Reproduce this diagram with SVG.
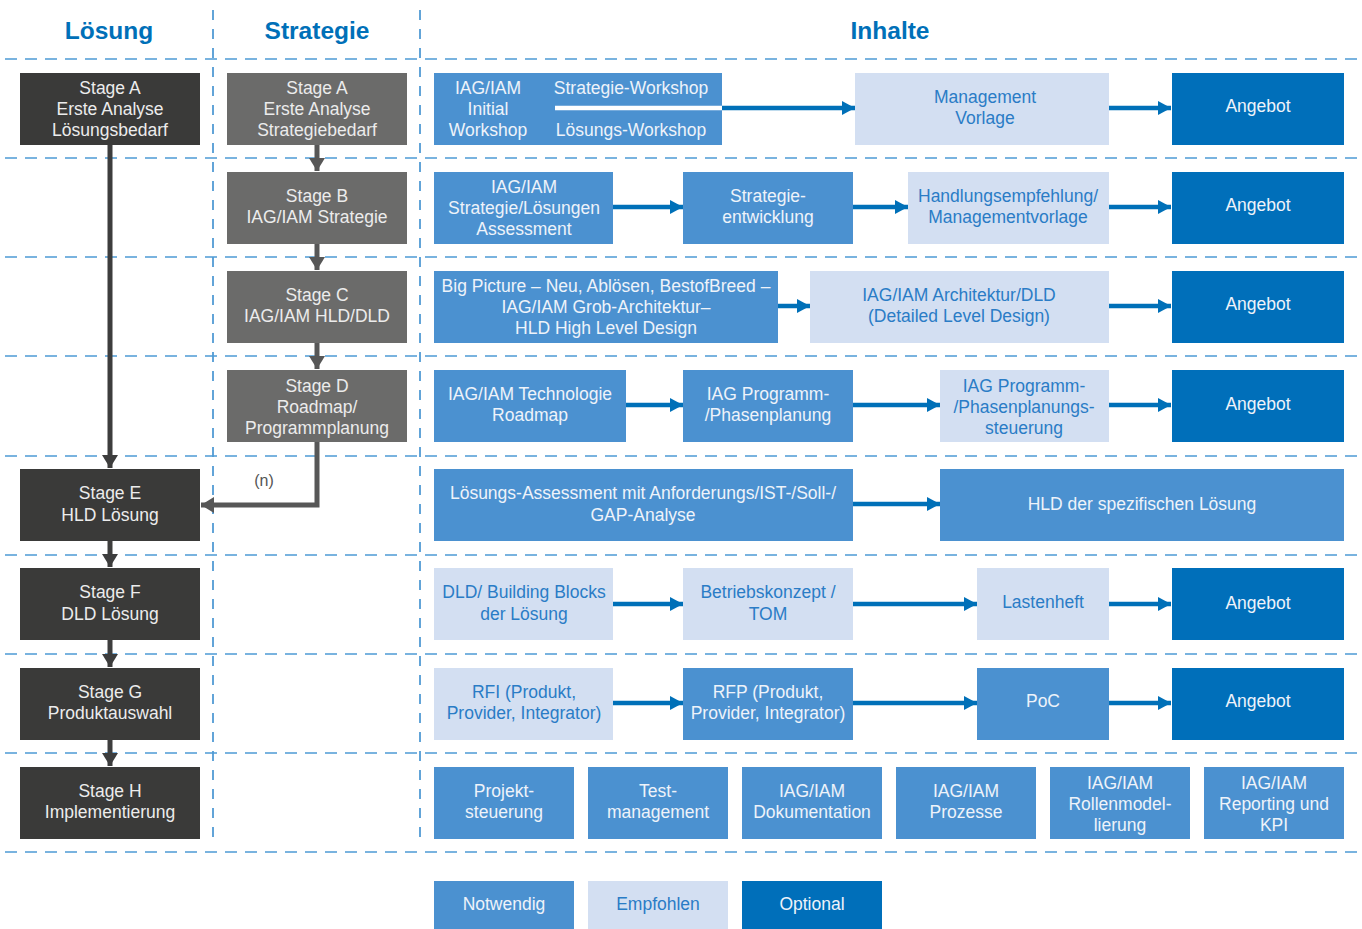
<svg xmlns="http://www.w3.org/2000/svg" width="1362" height="929" viewBox="0 0 1362 929">
<style>
text{font-family:"Liberation Sans",Arial,sans-serif;font-size:17.5px;text-anchor:middle}
.hd{font-size:24.5px;font-weight:bold;fill:#0070b8}
.grid{stroke:#4d9ad5;stroke-width:1.5;stroke-dasharray:12 8;fill:none}
.vgrid{stroke:#2f86cc;stroke-width:1.5;stroke-dasharray:10 9;fill:none}
.dk{fill:#3a3a39}.gr{fill:#6b6b6a}
.md{fill:#4b91d0}.lt{fill:#d3dff2}.op{fill:#006fba}
.tw{fill:#eef3fa}.tb{fill:#2a7cc6}.tg{fill:#ececec}
.ba{stroke:#0070b8;stroke-width:4.5;fill:none;marker-end:url(#ab)}
.ga{stroke:#3d3d3d;stroke-width:5;fill:none;marker-end:url(#ag)}
.ga2{stroke:#575757;stroke-width:5;fill:none;marker-end:url(#ag2)}
</style>
<defs>
<marker id="ab" markerUnits="userSpaceOnUse" markerWidth="13" markerHeight="14" refX="13" refY="7" orient="auto"><path d="M0,0L13,7L0,14z" fill="#0070b8"/></marker>
<marker id="ag" markerUnits="userSpaceOnUse" markerWidth="13" markerHeight="16" refX="13" refY="8" orient="auto"><path d="M0,0L13,8L0,16z" fill="#3d3d3d"/></marker>
<marker id="ag2" markerUnits="userSpaceOnUse" markerWidth="13" markerHeight="16" refX="13" refY="8" orient="auto"><path d="M0,0L13,8L0,16z" fill="#575757"/></marker>
</defs>
<rect width="1362" height="929" fill="#fff"/>
<g id="grid">
<path class="vgrid" d="M213,10V845M420,10V845"/>
<path class="grid" d="M5,59H1357M5,158H1357M5,257H1357M5,356H1357M5,456H1357M5,555H1357M5,654H1357M5,753H1357M5,852H1357"/>
</g>
<g id="headers">
<text class="hd" x="109" y="39">Lösung</text>
<text class="hd" x="317" y="39">Strategie</text>
<text class="hd" x="890" y="39">Inhalte</text>
</g>
<g id="loesung-a"><rect class="dk" x="20" y="73" width="180" height="72"/><text class="tg" x="110" y="94">Stage A</text><text class="tg" x="110" y="115">Erste Analyse</text><text class="tg" x="110" y="136">Lösungsbedarf</text></g>
<g id="loesung-e"><rect class="dk" x="20" y="469" width="180" height="72"/><text class="tg" x="110" y="499">Stage E</text><text class="tg" x="110" y="521">HLD Lösung</text></g>
<g id="loesung-f"><rect class="dk" x="20" y="568" width="180" height="72"/><text class="tg" x="110" y="598">Stage F</text><text class="tg" x="110" y="620">DLD Lösung</text></g>
<g id="loesung-g"><rect class="dk" x="20" y="668" width="180" height="72"/><text class="tg" x="110" y="698">Stage G</text><text class="tg" x="110" y="719">Produktauswahl</text></g>
<g id="loesung-h"><rect class="dk" x="20" y="767" width="180" height="72"/><text class="tg" x="110" y="797">Stage H</text><text class="tg" x="110" y="818">Implementierung</text></g>
<g id="strategie-a"><rect class="gr" x="227" y="73" width="180" height="72"/><text class="tg" x="317" y="94">Stage A</text><text class="tg" x="317" y="115">Erste Analyse</text><text class="tg" x="317" y="136">Strategiebedarf</text></g>
<g id="strategie-b"><rect class="gr" x="227" y="172" width="180" height="72"/><text class="tg" x="317" y="202">Stage B</text><text class="tg" x="317" y="223">IAG/IAM Strategie</text></g>
<g id="strategie-c"><rect class="gr" x="227" y="271" width="180" height="72"/><text class="tg" x="317" y="301">Stage C</text><text class="tg" x="317" y="322">IAG/IAM HLD/DLD</text></g>
<g id="strategie-d"><rect class="gr" x="227" y="370" width="180" height="72"/><text class="tg" x="317" y="392">Stage D</text><text class="tg" x="317" y="413">Roadmap/</text><text class="tg" x="317" y="434">Programmplanung</text></g>
<g id="r1-workshop"><rect class="md" x="434" y="73" width="288" height="72"/><text class="tw" x="488" y="94">IAG/IAM</text><text class="tw" x="488" y="115">Initial</text><text class="tw" x="488" y="136">Workshop</text><text class="tw" x="631" y="94">Strategie-Workshop</text><text class="tw" x="631" y="136">Lösungs-Workshop</text><path d="M555,108H722" stroke="#fff" stroke-width="4.5"/></g>
<g id="r1-mgmt"><rect class="lt" x="855" y="73" width="254" height="72"/><text class="tb" x="985" y="103">Management</text><text class="tb" x="985" y="124">Vorlage</text></g>
<g id="r1-angebot"><rect class="op" x="1172" y="73" width="172" height="72"/><text class="tw" x="1258" y="112">Angebot</text></g>
<g id="r2-assess"><rect class="md" x="434" y="172" width="179" height="72"/><text class="tw" x="524" y="193">IAG/IAM</text><text class="tw" x="524" y="214">Strategie/Lösungen</text><text class="tw" x="524" y="235">Assessment</text></g>
<g id="r2-entw"><rect class="md" x="683" y="172" width="170" height="72"/><text class="tw" x="768" y="202">Strategie-</text><text class="tw" x="768" y="223">entwicklung</text></g>
<g id="r2-handl"><rect class="lt" x="908" y="172" width="201" height="72"/><text class="tb" x="1008" y="202">Handlungsempfehlung/</text><text class="tb" x="1008" y="223">Managementvorlage</text></g>
<g id="r2-angebot"><rect class="op" x="1172" y="172" width="172" height="72"/><text class="tw" x="1258" y="211">Angebot</text></g>
<g id="r3-big"><rect class="md" x="434" y="271" width="344" height="72"/><text class="tw" x="606" y="292">Big Picture – Neu, Ablösen, BestofBreed –</text><text class="tw" x="606" y="313">IAG/IAM Grob-Architektur–</text><text class="tw" x="606" y="334">HLD High Level Design</text></g>
<g id="r3-arch"><rect class="lt" x="810" y="271" width="299" height="72"/><text class="tb" x="959" y="301">IAG/IAM Architektur/DLD</text><text class="tb" x="959" y="322">(Detailed Level Design)</text></g>
<g id="r3-angebot"><rect class="op" x="1172" y="271" width="172" height="72"/><text class="tw" x="1258" y="310">Angebot</text></g>
<g id="r4-roadmap"><rect class="md" x="434" y="370" width="192" height="72"/><text class="tw" x="530" y="400">IAG/IAM Technologie</text><text class="tw" x="530" y="421">Roadmap</text></g>
<g id="r4-prog"><rect class="md" x="683" y="370" width="170" height="72"/><text class="tw" x="768" y="400">IAG Programm-</text><text class="tw" x="768" y="421">/Phasenplanung</text></g>
<g id="r4-steuer"><rect class="lt" x="940" y="370" width="169" height="72"/><text class="tb" x="1024" y="392">IAG Programm-</text><text class="tb" x="1024" y="413">/Phasenplanungs-</text><text class="tb" x="1024" y="434">steuerung</text></g>
<g id="r4-angebot"><rect class="op" x="1172" y="370" width="172" height="72"/><text class="tw" x="1258" y="410">Angebot</text></g>
<g id="r5-assess"><rect class="md" x="434" y="469" width="419" height="72"/><text class="tw" x="643" y="499">Lösungs-Assessment mit Anforderungs/IST-/Soll-/</text><text class="tw" x="643" y="521">GAP-Analyse</text></g>
<g id="r5-hld"><rect class="md" x="940" y="469" width="404" height="72"/><text class="tw" x="1142" y="510">HLD der spezifischen Lösung</text></g>
<g id="r6-dld"><rect class="lt" x="434" y="568" width="179" height="72"/><text class="tb" x="524" y="598">DLD/ Building Blocks</text><text class="tb" x="524" y="620">der Lösung</text></g>
<g id="r6-betrieb"><rect class="lt" x="683" y="568" width="170" height="72"/><text class="tb" x="768" y="598">Betriebskonzept /</text><text class="tb" x="768" y="620">TOM</text></g>
<g id="r6-lasten"><rect class="lt" x="977" y="568" width="132" height="72"/><text class="tb" x="1043" y="608">Lastenheft</text></g>
<g id="r6-angebot"><rect class="op" x="1172" y="568" width="172" height="72"/><text class="tw" x="1258" y="609">Angebot</text></g>
<g id="r7-rfi"><rect class="lt" x="434" y="668" width="179" height="72"/><text class="tb" x="524" y="698">RFI (Produkt,</text><text class="tb" x="524" y="719">Provider, Integrator)</text></g>
<g id="r7-rfp"><rect class="md" x="683" y="668" width="170" height="72"/><text class="tw" x="768" y="698">RFP (Produkt,</text><text class="tw" x="768" y="719">Provider, Integrator)</text></g>
<g id="r7-poc"><rect class="md" x="977" y="668" width="132" height="72"/><text class="tw" x="1043" y="707">PoC</text></g>
<g id="r7-angebot"><rect class="op" x="1172" y="668" width="172" height="72"/><text class="tw" x="1258" y="707">Angebot</text></g>
<g id="r8-projekt"><rect class="md" x="434" y="767" width="140" height="72"/><text class="tw" x="504" y="797">Projekt-</text><text class="tw" x="504" y="818">steuerung</text></g>
<g id="r8-test"><rect class="md" x="588" y="767" width="140" height="72"/><text class="tw" x="658" y="797">Test-</text><text class="tw" x="658" y="818">management</text></g>
<g id="r8-doku"><rect class="md" x="742" y="767" width="140" height="72"/><text class="tw" x="812" y="797">IAG/IAM</text><text class="tw" x="812" y="818">Dokumentation</text></g>
<g id="r8-prozesse"><rect class="md" x="896" y="767" width="140" height="72"/><text class="tw" x="966" y="797">IAG/IAM</text><text class="tw" x="966" y="818">Prozesse</text></g>
<g id="r8-rollen"><rect class="md" x="1050" y="767" width="140" height="72"/><text class="tw" x="1120" y="789">IAG/IAM</text><text class="tw" x="1120" y="810">Rollenmodel-</text><text class="tw" x="1120" y="831">lierung</text></g>
<g id="r8-reporting"><rect class="md" x="1204" y="767" width="140" height="72"/><text class="tw" x="1274" y="789">IAG/IAM</text><text class="tw" x="1274" y="810">Reporting und</text><text class="tw" x="1274" y="831">KPI</text></g>
<g id="legend-notwendig"><rect class="md" x="434" y="881" width="140" height="48"/><text class="tw" x="504" y="910">Notwendig</text></g>
<g id="legend-empfohlen"><rect class="lt" x="588" y="881" width="140" height="48"/><text class="tb" x="658" y="910">Empfohlen</text></g>
<g id="legend-optional"><rect class="op" x="742" y="881" width="140" height="48"/><text class="tw" x="812" y="910">Optional</text></g>
<g id="connectors">
<path class="ga" d="M110,145V468"/>
<path class="ga" d="M110,541V567"/>
<path class="ga" d="M110,640V667"/>
<path class="ga" d="M110,740V766"/>
<path class="ga2" d="M317,145V171"/>
<path class="ga2" d="M317,244V270"/>
<path class="ga2" d="M317,343V369"/>
<path class="ga2" d="M317,442V505H201"/>
<text x="264" y="486" style="font-size:16px;fill:#555">(n)</text>
<path class="ba" d="M722,108H855"/>
<path class="ba" d="M1109,108H1171"/>
<path class="ba" d="M613,207H683"/>
<path class="ba" d="M853,207H908"/>
<path class="ba" d="M1109,207H1171"/>
<path class="ba" d="M778,306H810"/>
<path class="ba" d="M1109,306H1171"/>
<path class="ba" d="M626,405H683"/>
<path class="ba" d="M853,405H940"/>
<path class="ba" d="M1109,405H1171"/>
<path class="ba" d="M853,504H940"/>
<path class="ba" d="M613,604H683"/>
<path class="ba" d="M853,604H977"/>
<path class="ba" d="M1109,604H1171"/>
<path class="ba" d="M613,703H683"/>
<path class="ba" d="M853,703H977"/>
<path class="ba" d="M1109,703H1171"/>
</g>
</svg>
